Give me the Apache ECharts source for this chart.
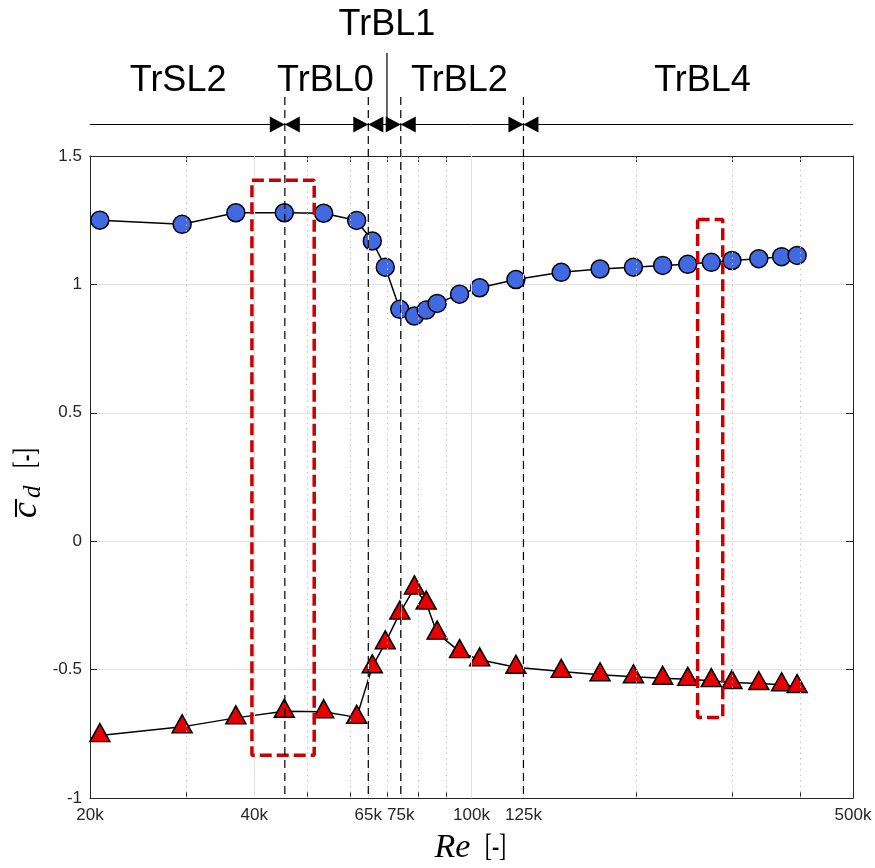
<!DOCTYPE html>
<html><head><meta charset="utf-8">
<script src="https://cdn.jsdelivr.net/npm/echarts@6/dist/echarts.min.js"></script>
<style>html,body{margin:0;padding:0;background:#fff}#c{width:875px;height:868px}</style>
</head><body><div id="c"></div>
<script>
// ---- data ----
const reynolds = [20850, 29500, 37000, 45400, 53600, 61600, 65800, 69500, 73900, 78600, 82600, 86500, 95100, 103500, 120600, 146000, 172000, 198000, 224000, 249000, 275000, 300000, 336000, 370000, 395000];
const cdUpper = [1.250, 1.234, 1.279, 1.279, 1.277, 1.249, 1.169, 1.067, 0.903, 0.877, 0.900, 0.926, 0.962, 0.987, 1.019, 1.047, 1.060, 1.067, 1.074, 1.078, 1.086, 1.093, 1.100, 1.108, 1.113];
const cdLower = [-0.757, -0.723, -0.688, -0.662, -0.664, -0.686, -0.489, -0.396, -0.280, -0.182, -0.241, -0.358, -0.430, -0.462, -0.491, -0.507, -0.520, -0.528, -0.534, -0.538, -0.543, -0.550, -0.554, -0.559, -0.566];

const xLabelValues = [20000, 40000, 64700, 74200, 100000, 124500, 500000];
const xLabels = ['20k', '40k', '65k', '75k', '100k', '125k', '500k'];
const xTickValues = [20000, 30000, 40000, 50000, 60000, 64700, 70000, 74200, 80000, 90000, 100000, 124500, 200000, 300000, 400000, 500000];
const xMajorGrid = [40000, 64700, 74200, 100000, 124500];
const xMinorGrid = [30000, 50000, 60000, 70000, 80000, 90000, 200000, 300000, 400000];

const regimeBounds = [45500, 64700, 74200, 124500];
const regimeNames = ['TrSL2', 'TrBL0', 'TrBL1', 'TrBL2', 'TrBL4'];
const regimeLabelRe = [29000, 54000, 70000, 95000, 265000];
const trbl1PointerRe = 70000;

const box1Re = [39600, 51500], box1Cd = [-0.834, 1.406];
const box2Re = [259600, 288600], box2Cd = [-0.687, 1.253];

// ---- helpers ----
function boxPath(re, cd) {
  return [[re[0], cd[1]], [re[1], cd[1]], [re[1], cd[0]], [re[0], cd[0]], [re[0], cd[1]]];
}
function fmtX(v) {
  const i = xLabelValues.findIndex(t => Math.abs(t - v) / t < 0.005);
  return i >= 0 ? xLabels[i] : '';
}
const axisColor = '#262626';
const sans = '"Liberation Sans", Arial, Helvetica, sans-serif';
const serif = '"Liberation Serif", "Times New Roman", serif';

const xAxisBase = {
  type: 'log', logBase: 10, min: 20000, max: 500000,
  axisLine: { show: true, onZero: false, lineStyle: { color: axisColor, width: 1 } },
  axisTick: { show: true, inside: true, length: 6, customValues: xTickValues, lineStyle: { color: axisColor, width: 1 } },
  splitLine: { show: false }, minorTick: { show: false }, minorSplitLine: { show: false }
};
const yAxisBase = {
  type: 'value', min: -1, max: 1.5, interval: 0.5,
  axisLine: { show: true, onZero: false, lineStyle: { color: axisColor, width: 1 } },
  axisTick: { show: true, inside: true, length: 7, lineStyle: { color: axisColor, width: 1 } }
};

const option = {
  animation: false,
  backgroundColor: '#ffffff',
  textStyle: { fontFamily: sans },
  grid: { left: 90, right: 22, top: 156, bottom: 70, containLabel: false },
  xAxis: [
    Object.assign({}, xAxisBase, {
      position: 'bottom',
      axisLabel: { show: true, customValues: xLabelValues, formatter: fmtX, color: axisColor, fontSize: 17, fontFamily: sans, margin: 9, hideOverlap: false }
    }),
    Object.assign({}, xAxisBase, { position: 'top', axisLabel: { show: false } })
  ],
  yAxis: [
    Object.assign({}, yAxisBase, {
      position: 'left',
      axisLabel: { show: true, color: axisColor, fontSize: 17, fontFamily: sans, margin: 8 },
      splitLine: { show: true, lineStyle: { color: '#e2e2e2', width: 1 } }
    }),
    Object.assign({}, yAxisBase, { position: 'right', axisLabel: { show: false }, splitLine: { show: false } })
  ],
  series: [
    {
      type: 'line', data: [], silent: true, z: 1, xAxisIndex: 0, yAxisIndex: 0,
      markLine: {
        silent: true, symbol: ['none', 'none'], label: { show: false }, animation: false,
        data: xMajorGrid.map(v => ({ xAxis: v, lineStyle: { color: '#e2e2e2', type: 'solid', width: 1 } }))
          .concat(xMinorGrid.map(v => ({ xAxis: v, lineStyle: { color: '#c4c4c4', type: [1.5, 4], width: 1 } })))
      }
    },
    {
      name: 'upper', type: 'line', xAxisIndex: 0, yAxisIndex: 0, z: 3,
      data: reynolds.map((r, i) => [r, cdUpper[i]]),
      symbol: 'circle', symbolSize: 18,
      itemStyle: { color: '#4169e1', borderColor: '#000', borderWidth: 1.5 },
      lineStyle: { color: '#000', width: 1.5 }
    },
    {
      name: 'lower', type: 'line', xAxisIndex: 0, yAxisIndex: 0, z: 3,
      data: reynolds.map((r, i) => [r, cdLower[i]]),
      symbol: 'triangle', symbolSize: [20, 18], symbolOffset: [0, -3],
      itemStyle: { color: '#e60000', borderColor: '#000', borderWidth: 1.5 },
      lineStyle: { color: '#000', width: 1.5 }
    },
    {
      name: 'box1', type: 'line', xAxisIndex: 0, yAxisIndex: 0, z: 5, silent: true,
      data: boxPath(box1Re, box1Cd), symbol: 'none',
      lineStyle: { color: '#cc0000', width: 3.5, type: [12, 5] }
    },
    {
      name: 'box2', type: 'line', xAxisIndex: 0, yAxisIndex: 0, z: 5, silent: true,
      data: boxPath(box2Re, box2Cd), symbol: 'none',
      lineStyle: { color: '#cc0000', width: 3.5, type: [12, 5] }
    }
  ]
};

const chart = echarts.init(document.getElementById('c'), null, { renderer: 'canvas' });
chart.setOption(option);

// ---- annotations positioned through the axes ----
const X = v => chart.convertToPixel({ xAxisIndex: 0 }, v);
const Y = v => chart.convertToPixel({ yAxisIndex: 0 }, v);
const g = [];
const lineY = 124.5;
const headFont = '36px ' + sans;

g.push({ type: 'line', z: 100, shape: { x1: X(20000), y1: lineY, x2: X(500000), y2: lineY }, style: { stroke: '#000', lineWidth: 1 } });
regimeBounds.forEach(b => {
  const x = X(b);
  g.push({ type: 'polygon', z: 100, shape: { points: [[x - 15, lineY - 8], [x, lineY], [x - 15, lineY + 8]] }, style: { fill: '#000' } });
  g.push({ type: 'polygon', z: 100, shape: { points: [[x + 15, lineY - 8], [x, lineY], [x + 15, lineY + 8]] }, style: { fill: '#000' } });
  g.push({ type: 'line', z: 100, shape: { x1: x, y1: 97, x2: x, y2: Y(-1) }, style: { stroke: '#000', lineWidth: 1.2, lineDash: [8, 5] } });
});
const xp = X(trbl1PointerRe);
g.push({ type: 'line', z: 100, shape: { x1: xp, y1: 53, x2: xp, y2: 130 }, style: { stroke: '#000', lineWidth: 1.2 } });
regimeNames.forEach((n, i) => {
  g.push({ type: 'text', z: 100, x: X(regimeLabelRe[i]), y: (n === 'TrBL1' ? 25 : 81),
    style: { text: n, font: headFont, fill: '#000', align: 'center', verticalAlign: 'middle', textAlign: 'center', textVerticalAlign: 'middle' } });
});

// x axis title: Re [-]
const cx = (X(20000) + X(500000)) / 2;
g.push({ type: 'text', z: 100, x: cx - 37, y: 865,
  style: { text: 'Re', font: 'italic 34px ' + serif, fill: '#000', align: 'left', verticalAlign: 'bottom', textAlign: 'left', textVerticalAlign: 'bottom' } });
g.push({ type: 'text', z: 100, x: cx + 24, y: 848, scaleX: 0.68,
  style: { text: '[-]', font: '32px ' + serif, fill: '#000', align: 'center', verticalAlign: 'middle', textAlign: 'center', textVerticalAlign: 'middle' } });

// y axis title: c̄_d [-]  (rotated)
const cy = (Y(-1) + Y(1.5)) / 2 + 6;
g.push({
  type: 'group', x: 28, y: cy, rotation: Math.PI / 2, z: 100,
  children: [
    { type: 'text', x: -35, y: 17, style: { text: 'c', font: 'italic 36px ' + serif, fill: '#000', align: 'left', verticalAlign: 'bottom', textAlign: 'left', textVerticalAlign: 'bottom' } },
    { type: 'line', shape: { x1: -34, y1: -12, x2: -16, y2: -12 }, style: { stroke: '#000', lineWidth: 2 } },
    { type: 'text', x: -15, y: 18, style: { text: 'd', font: 'italic 25px ' + serif, fill: '#000', align: 'left', verticalAlign: 'bottom', textAlign: 'left', textVerticalAlign: 'bottom' } },
    { type: 'text', x: 25, y: -1, scaleX: 0.62, style: { text: '[-]', font: '32px ' + serif, fill: '#000', align: 'center', verticalAlign: 'middle', textAlign: 'center', textVerticalAlign: 'middle' } }
  ]
});

chart.setOption({ graphic: g });
</script>
</body></html>
